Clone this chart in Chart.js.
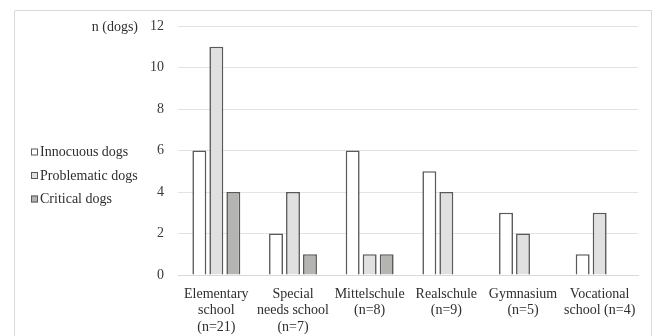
<!DOCTYPE html>
<html>
<head>
<meta charset="utf-8">
<script src="https://cdn.jsdelivr.net/npm/chart.js@4"></script>
<style>
  html, body { margin: 0; padding: 0; background: #fff; }
  #wrap { position: relative; width: 654px; height: 336px; }
</style>
</head>
<body>
<div id="wrap"><canvas id="c" width="654" height="336"></canvas></div>
<script>
const categories = [
  ['Elementary', 'school', '(n=21)'],
  ['Special', 'needs school', '(n=7)'],
  ['Mittelschule', '(n=8)'],
  ['Realschule', '(n=9)'],
  ['Gymnasium', '(n=5)'],
  ['Vocational', 'school (n=4)']
];
const seriesNames = ['Innocuous dogs', 'Problematic dogs', 'Critical dogs'];
const innocuous = [6, 2, 6, 5, 3, 1];
const problematic = [11, 4, 1, 4, 2, 3];
const critical = [4, 1, 1, 0, 0, 0];
const yTicks = [0, 2, 4, 6, 8, 10, 12];
const yTitle = 'n (dogs)';

const fills = ['#ffffff', '#e0e0e0', '#b4b4b1'];
const border = '#595959';
const FONT = '"Liberation Serif", "Times New Roman", serif';

const frame = {
  id: 'frame',
  beforeDraw(chart) {
    const c = chart.ctx;
    c.save();
    c.strokeStyle = '#dadada';
    c.lineWidth = 1;
    c.beginPath();
    c.moveTo(14.5, 340);
    c.lineTo(14.5, 10.5);
    c.lineTo(651.5, 10.5);
    c.lineTo(651.5, 340);
    c.stroke();
    c.restore();
  },
  afterDraw(chart) {
    const c = chart.ctx;
    c.save();
    c.font = '14px ' + FONT;
    c.fillStyle = '#2e2e2e';
    c.textBaseline = 'middle';
    const ys = chart.scales.y;
    c.textAlign = 'right';
    c.fillText(yTitle, 138, ys.getPixelForValue(12) + 1);
    c.textAlign = 'left';
    const ly = [152, 175.5, 199];
    chart.data.datasets.forEach((ds, i) => {
      c.fillStyle = ds.backgroundColor;
      c.fillRect(31, ly[i] - 3.5, 7, 7);
      c.strokeStyle = border;
      c.lineWidth = 1;
      c.strokeRect(31.5, ly[i] - 3, 6, 6);
      c.fillStyle = '#2e2e2e';
      c.fillText(ds.label, 40, ly[i] + 0.5);
    });
    c.restore();
  }
};

function bw(ctx) { return ctx.raw === 0 ? 0 : 1.6; }

new Chart(document.getElementById('c'), {
  type: 'bar',
  data: {
    labels: categories,
    datasets: [
      { label: seriesNames[0], data: innocuous, backgroundColor: fills[0], borderColor: border, borderWidth: bw, borderSkipped: 'bottom' },
      { label: seriesNames[1], data: problematic, backgroundColor: fills[1], borderColor: border, borderWidth: bw, borderSkipped: 'bottom' },
      { label: seriesNames[2], data: critical, backgroundColor: fills[2], borderColor: border, borderWidth: bw, borderSkipped: 'bottom' }
    ]
  },
  options: {
    responsive: false,
    animation: false,
    devicePixelRatio: 1,
    categoryPercentage: 0.665,
    barPercentage: 0.82,
    layout: { padding: { left: 148, right: 16, top: 26, bottom: 0 } },
    plugins: { legend: { display: false }, tooltip: { enabled: false } },
    scales: {
      x: {
        grid: { display: false },
        border: { display: true, color: '#d9d9d9', width: 1 },
        ticks: {
          color: '#2e2e2e',
          font: { family: FONT, size: 14, lineHeight: 1.18 },
          padding: 3,
          maxRotation: 0,
          autoSkip: false
        },
        afterFit(s) { s.height = 61; }
      },
      y: {
        min: 0, max: 12,
        afterBuildTicks(s) { s.ticks = yTicks.map(v => ({ value: v })); },
        grid: { color: '#e3e3e3', lineWidth: 1, drawTicks: false },
        border: { display: false },
        ticks: {
          color: '#3a3a3a',
          font: { family: FONT, size: 14 },
          padding: 14
        },
        afterFit(s) { s.width = 30; }
      }
    }
  },
  plugins: [frame]
});
</script>
</body>
</html>
